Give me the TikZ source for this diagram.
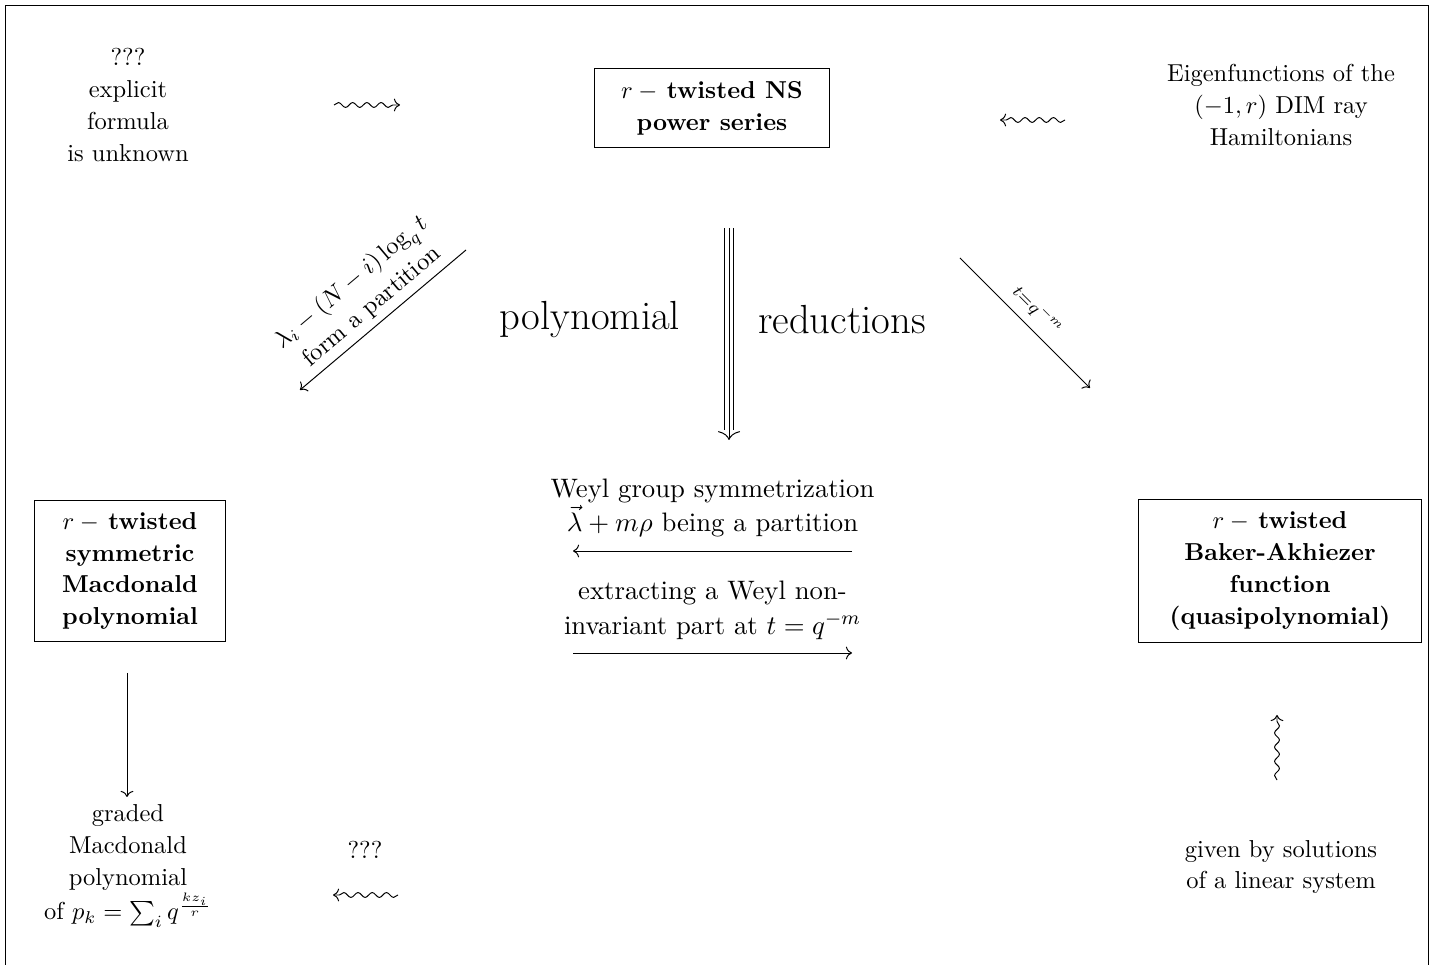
\documentclass[tikz,border=0pt]{standalone}
\usepackage{amsmath,amssymb,amsfonts}
\usepackage{tikz}
\usetikzlibrary{arrows.meta,decorations.pathmorphing}

\begin{document}
\begin{tikzpicture}[
            x=0.4082pt, y=-0.4082pt,
            >={To},
            every node/.style={align=center, font=\fontsize{10}{13}\selectfont},
            framebox/.style={draw, inner xsep=4pt, inner ysep=5pt},
            bigword/.style={font=\fontsize{16.6}{20}\selectfont},
            midlabel/.style={above=2pt, font=\fontsize{10.9}{14}\selectfont},
            wavy/.style={->, decorate, decoration={snake, amplitude=1pt, segment length=5.8pt, post length=2pt}}
        ]
        \useasboundingbox (0,0) rectangle (1440,965);
        \draw[line width=0.4pt] (5,965) -- (5,5) -- (1428,5) -- (1428,965);
        % top row
        \node (unk) at (128,105) {???\\explicit\\formula\\is unknown};
        \node[framebox, minimum width=95.9pt] (ns) at (712,108) {$r-{}$\,\textbf{twisted NS}\\\textbf{power series}};
        \node (eig) at (1281,105) {Eigenfunctions of the\\$(-1,r)$ DIM ray\\Hamiltonians};
        % middle row
        \node[framebox, minimum width=77.6pt] (smac) at (130,571) {$r-{}$\,\textbf{twisted}\\\textbf{symmetric}\\\textbf{Macdonald}\\\textbf{polynomial}};
        \node[framebox, minimum width=115.5pt] (ba) at (1280,571) {$r-{}$\,\textbf{twisted}\\\textbf{Baker-Akhiezer}\\\textbf{function}\\\textbf{(quasipolynomial)}};
        \node[bigword] (poly) at (590,320) {polynomial};
        \node[bigword] (red) at (842,320) {reductions};
        % bottom row
        \node (grad) at (128,866) {graded\\Macdonald\\polynomial\\of $p_k=\sum_i q^{\frac{kz_i}{r}}$};
        \node (qq) at (365,850) {???};
        \node (sol) at (1281,867) {given by solutions\\of a linear system};
        % arrow ends
        \coordinate (w1a) at (334,105);  \coordinate (w1b) at (400,105);
        \coordinate (w2a) at (1065,120); \coordinate (w2b) at (1000,120);
        \coordinate (w3a) at (398,895);  \coordinate (w3b) at (333,895);
        \coordinate (w4a) at (1277,780); \coordinate (w4b) at (1277,715);
        \coordinate (dla) at (466,250);  \coordinate (dlb) at (300,390);
        \coordinate (dra) at (960,258);  \coordinate (drb) at (1090,388);
        \coordinate (ta) at (729,228);   \coordinate (tb) at (729,440);
        \coordinate (hla) at (852,551);  \coordinate (hlb) at (573,551);
        \coordinate (hra) at (573,653);  \coordinate (hrb) at (852,653);
        \coordinate (va) at (127,673);   \coordinate (vb) at (127,797);
        % wavy arrows
        \draw[wavy] (w1a) -- (w1b);
        \draw[wavy] (w2a) -- (w2b);
        \draw[wavy] (w3a) -- (w3b);
        \draw[wavy] (w4a) -- (w4b);
        % triple arrow
        \draw[double, double distance=3pt, shorten >=4pt] (ta) -- (tb);
        \draw[-{Computer Modern Rightarrow[width=9pt,length=3.6pt]}] (ta) -- (tb);
        % diagonal arrows
        \draw[->] (dla) -- node[sloped, above=-1pt] (dll) {$\lambda_i-(N-i)\log_q t$\\form a partition} (dlb);
        \draw[->] (dra) -- node[sloped, above] (drl) {$\scriptstyle t=q^{-m}$} (drb);
        % horizontal arrows
        \draw[->] (hla) -- node[midlabel] (wsym) {Weyl group symmetrization\\$\vec\lambda+m\rho$ being a partition} (hlb);
        \draw[->] (hra) -- node[midlabel] (extr) {extracting a Weyl non-\\invariant part at $t=q^{-m}$} (hrb);
        \draw[->] (va) -- (vb);
\end{tikzpicture}
\end{document}
